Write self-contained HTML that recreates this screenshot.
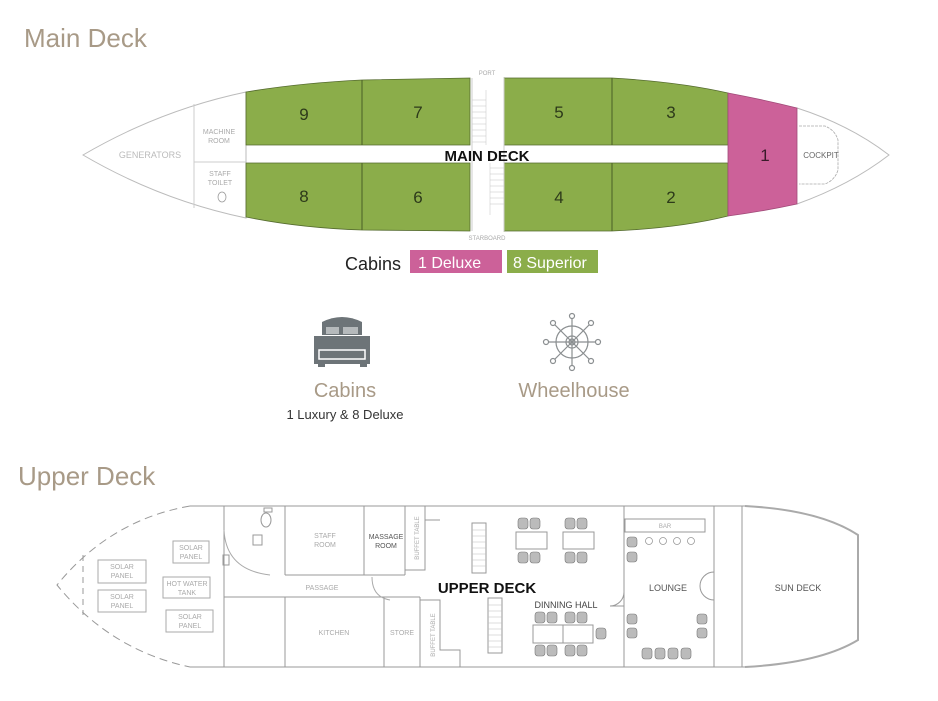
<!DOCTYPE html>
<html><head><meta charset="utf-8"><style>
html,body{margin:0;padding:0;background:#fff;}
svg{display:block;font-family:"Liberation Sans",Arial,sans-serif;}
.t{fill:#a89a87;font-size:26px;}
.s{fill:#aaa;font-size:7px;text-anchor:middle;}
.n{fill:#2d3a1a;font-size:17px;text-anchor:middle;}
</style></head><body>
<svg width="938" height="701" viewBox="0 0 938 701" xmlns="http://www.w3.org/2000/svg">
<text x="24" y="47" class="t">Main Deck</text>
<text x="18" y="485" class="t">Upper Deck</text>

<!-- MAIN DECK hull -->
<path d="M83,155 Q160,110 246,92 L246,218 Q160,200 83,155 Z" fill="#fff" stroke="#bbb" stroke-width="1"/>
<path d="M797,108 Q850,125 889,155 Q850,185 797,204" fill="none" stroke="#bbb" stroke-width="1"/>
<!-- cockpit -->
<path d="M799,126 L825,126 Q835,130 838,140 L838,170 Q835,180 825,184 L799,184" fill="none" stroke="#aaa" stroke-width="0.8" stroke-dasharray="3,1"/>
<text x="821" y="158" class="s" style="font-size:8px;fill:#666">COCKPIT</text>
<!-- machine room / toilet -->
<line x1="194" y1="104" x2="194" y2="208" stroke="#ccc"/>
<line x1="194" y1="162" x2="246" y2="162" stroke="#ccc"/>
<text x="150" y="158" class="s" style="font-size:9px;fill:#bbb">GENERATORS</text>
<text x="219" y="134" class="s">MACHINE</text><text x="219" y="143" class="s">ROOM</text>
<text x="220" y="176" class="s">STAFF</text><text x="220" y="185" class="s">TOILET</text>
<ellipse cx="222" cy="197" rx="4" ry="5" fill="none" stroke="#999" stroke-width="0.8"/>
<!-- green cabins -->
<path d="M246,92 Q300,83 362,80 L470,78 L470,145 L246,145 Z" fill="#8bad4a" stroke="#556b2f" stroke-width="0.8"/>
<path d="M246,163 L470,163 L470,231 L362,230 Q300,228 246,217 Z" fill="#8bad4a" stroke="#556b2f" stroke-width="0.8"/>
<line x1="362" y1="80" x2="362" y2="145" stroke="#4a5e26"/>
<line x1="362" y1="163" x2="362" y2="230" stroke="#4a5e26"/>
<path d="M504,78 L612,78 Q680,82 728,93 L728,145 L504,145 Z" fill="#8bad4a" stroke="#556b2f" stroke-width="0.8"/>
<path d="M504,163 L728,163 L728,216 Q680,228 612,231 L504,231 Z" fill="#8bad4a" stroke="#556b2f" stroke-width="0.8"/>
<line x1="612" y1="78" x2="612" y2="145" stroke="#4a5e26"/>
<line x1="612" y1="163" x2="612" y2="231" stroke="#4a5e26"/>
<path d="M728,93 Q765,100 797,108 L797,204 Q765,211 728,216 Z" fill="#cc6199" stroke="#a04a78" stroke-width="0.8"/>
<!-- stairs -->
<line x1="472" y1="78" x2="472" y2="231" stroke="#ccc"/>
<line x1="504" y1="78" x2="504" y2="231" stroke="#ccc"/>
<g stroke="#ccc" stroke-width="0.6">
<line x1="472" y1="100" x2="486" y2="100"/><line x1="472" y1="106" x2="486" y2="106"/><line x1="472" y1="112" x2="486" y2="112"/><line x1="472" y1="118" x2="486" y2="118"/><line x1="472" y1="124" x2="486" y2="124"/><line x1="472" y1="130" x2="486" y2="130"/><line x1="472" y1="136" x2="486" y2="136"/><line x1="472" y1="142" x2="486" y2="142"/>
<line x1="490" y1="168" x2="504" y2="168"/><line x1="490" y1="174" x2="504" y2="174"/><line x1="490" y1="180" x2="504" y2="180"/><line x1="490" y1="186" x2="504" y2="186"/><line x1="490" y1="192" x2="504" y2="192"/><line x1="490" y1="198" x2="504" y2="198"/><line x1="490" y1="204" x2="504" y2="204"/>
<line x1="486" y1="90" x2="486" y2="145"/><line x1="490" y1="163" x2="490" y2="215"/>
</g>
<text x="487" y="75" class="s" style="font-size:6px">PORT</text>
<text x="487" y="240" class="s" style="font-size:6px">STARBOARD</text>
<text x="487" y="161" style="font-size:15px;font-weight:bold;text-anchor:middle;fill:#111">MAIN DECK</text>
<text x="304" y="120" class="n">9</text><text x="418" y="118" class="n">7</text>
<text x="559" y="118" class="n">5</text><text x="671" y="118" class="n">3</text>
<text x="304" y="202" class="n">8</text><text x="418" y="203" class="n">6</text>
<text x="559" y="203" class="n">4</text><text x="671" y="203" class="n">2</text>
<text x="765" y="161" class="n" style="fill:#3a1a2a">1</text>

<!-- legend -->
<text x="345" y="270" style="font-size:18px;fill:#222">Cabins</text>
<rect x="410" y="250" width="92" height="23" fill="#cc6199"/>
<text x="418" y="268" style="font-size:16px;fill:#fff">1 Deluxe</text>
<rect x="507" y="250" width="91" height="23" fill="#8bad4a"/>
<text x="513" y="268" style="font-size:16px;fill:#fff">8 Superior</text>

<!-- bed icon -->
<g fill="#6d7478">
<path d="M322,335 L322,322 Q342,312 362,322 L362,335 Z"/>
<rect x="314" y="336" width="56" height="28"/>
<rect x="318" y="364" width="7" height="3"/><rect x="360" y="364" width="7" height="3"/>
</g>
<rect x="326" y="327" width="13" height="7" fill="#fff" opacity=".5"/>
<rect x="343" y="327" width="15" height="7" fill="#fff" opacity=".5"/>
<rect x="319" y="350" width="46" height="9" fill="none" stroke="#fff" stroke-width="1.5"/>
<text x="345" y="397" style="font-size:20px;fill:#a89a87;text-anchor:middle">Cabins</text>
<text x="345" y="419" style="font-size:13px;fill:#333;text-anchor:middle">1 Luxury &amp; 8 Deluxe</text>
<!-- wheel -->
<g stroke="#8a8e90" stroke-width="1.2" fill="none">
<circle cx="572" cy="342" r="16"/><circle cx="572" cy="342" r="6"/><circle cx="572" cy="342" r="3"/>
<line x1="572" y1="318" x2="572" y2="366"/><line x1="548" y1="342" x2="596" y2="342"/>
<line x1="555" y1="325" x2="589" y2="359"/><line x1="589" y1="325" x2="555" y2="359"/>
<circle cx="572" cy="316" r="2.5"/><circle cx="572" cy="368" r="2.5"/><circle cx="546" cy="342" r="2.5"/><circle cx="598" cy="342" r="2.5"/>
<circle cx="553" cy="323" r="2.5"/><circle cx="591" cy="323" r="2.5"/><circle cx="553" cy="361" r="2.5"/><circle cx="591" cy="361" r="2.5"/>
</g>
<text x="574" y="397" style="font-size:20px;fill:#a89a87;text-anchor:middle">Wheelhouse</text>

<!-- UPPER DECK -->
<g fill="none" stroke="#999" stroke-width="1">
<path d="M190,506 Q110,520 57,585 Q110,650 190,667" stroke-dasharray="8,5"/>
<line x1="83" y1="555" x2="83" y2="615" stroke-dasharray="6,5"/>
<line x1="190" y1="506" x2="745" y2="506"/>
<line x1="190" y1="667" x2="745" y2="667"/>
<path d="M745,506 Q820,510 858,535 L858,640 Q820,663 745,667" stroke-width="2" stroke="#aaa"/>
<line x1="224" y1="506" x2="224" y2="667"/>
<line x1="182" y1="497" x2="182" y2="497"/>
<line x1="224" y1="597" x2="420" y2="597"/>
<line x1="285" y1="506" x2="285" y2="575"/>
<line x1="285" y1="575" x2="405" y2="575"/>
<line x1="364" y1="506" x2="364" y2="575"/>
<line x1="405" y1="506" x2="405" y2="575"/>
<rect x="405" y="506" width="20" height="64"/>
<path d="M425,506 L425,520 L440,520"/>
<line x1="285" y1="597" x2="285" y2="667"/>
<line x1="384" y1="597" x2="384" y2="667"/>
<line x1="420" y1="597" x2="420" y2="667"/>
<path d="M420,600 L440,600 L440,650 L460,650 L460,667"/>
<path d="M224,530 Q226,570 270,575" stroke="#aaa"/>
<path d="M372,577 Q372,597 390,600" stroke="#aaa"/>
<line x1="624" y1="506" x2="624" y2="667"/>
<line x1="714" y1="506" x2="714" y2="667"/>
<line x1="742" y1="506" x2="742" y2="667"/>
<rect x="625" y="519" width="80" height="13"/>
<path d="M714,572 A14,14 0 0,0 714,600"/>
<path d="M624,592 A14,14 0 0,1 610,606 L624,606"/>
<rect x="264" y="508" width="8" height="4"/>
<ellipse cx="266" cy="520" rx="5" ry="7"/>
<rect x="253" y="535" width="9" height="10"/>
<rect x="223" y="555" width="6" height="10"/>
<rect x="472" y="523" width="14" height="50"/>
<rect x="488" y="598" width="14" height="55"/>
<rect x="516" y="532" width="31" height="17"/>
<rect x="563" y="532" width="31" height="17"/>
<rect x="533" y="625" width="30" height="18"/>
<rect x="563" y="625" width="30" height="18"/>
</g>
<g stroke="#bbb" stroke-width="0.5">
<line x1="472" y1="530" x2="486" y2="530"/><line x1="472" y1="536" x2="486" y2="536"/><line x1="472" y1="542" x2="486" y2="542"/><line x1="472" y1="548" x2="486" y2="548"/><line x1="472" y1="554" x2="486" y2="554"/><line x1="472" y1="560" x2="486" y2="560"/><line x1="472" y1="566" x2="486" y2="566"/>
<line x1="488" y1="605" x2="502" y2="605"/><line x1="488" y1="611" x2="502" y2="611"/><line x1="488" y1="617" x2="502" y2="617"/><line x1="488" y1="623" x2="502" y2="623"/><line x1="488" y1="629" x2="502" y2="629"/><line x1="488" y1="635" x2="502" y2="635"/><line x1="488" y1="641" x2="502" y2="641"/><line x1="488" y1="647" x2="502" y2="647"/>
</g>
<g fill="none" stroke="#aaa">
<rect x="173" y="541" width="36" height="22"/><rect x="98" y="560" width="48" height="23"/><rect x="98" y="590" width="48" height="22"/>
<rect x="163" y="577" width="47" height="21"/><rect x="166" y="610" width="47" height="22"/>
</g>
<g fill="#bbb" stroke="#777" stroke-width="0.6">
<rect x="518" y="518" width="10" height="11" rx="3"/><rect x="530" y="518" width="10" height="11" rx="3"/>
<rect x="518" y="552" width="10" height="11" rx="3"/><rect x="530" y="552" width="10" height="11" rx="3"/>
<rect x="565" y="518" width="10" height="11" rx="3"/><rect x="577" y="518" width="10" height="11" rx="3"/>
<rect x="565" y="552" width="10" height="11" rx="3"/><rect x="577" y="552" width="10" height="11" rx="3"/>
<rect x="535" y="612" width="10" height="11" rx="3"/><rect x="547" y="612" width="10" height="11" rx="3"/>
<rect x="565" y="612" width="10" height="11" rx="3"/><rect x="577" y="612" width="10" height="11" rx="3"/>
<rect x="535" y="645" width="10" height="11" rx="3"/><rect x="547" y="645" width="10" height="11" rx="3"/>
<rect x="565" y="645" width="10" height="11" rx="3"/><rect x="577" y="645" width="10" height="11" rx="3"/>
<rect x="596" y="628" width="10" height="11" rx="3"/>
<rect x="627" y="537" width="10" height="10" rx="3"/><rect x="627" y="552" width="10" height="10" rx="3"/>
<rect x="627" y="614" width="10" height="10" rx="3"/><rect x="627" y="628" width="10" height="10" rx="3"/>
<rect x="697" y="614" width="10" height="10" rx="3"/><rect x="697" y="628" width="10" height="10" rx="3"/>
<rect x="642" y="648" width="10" height="11" rx="3"/><rect x="655" y="648" width="10" height="11" rx="3"/><rect x="668" y="648" width="10" height="11" rx="3"/><rect x="681" y="648" width="10" height="11" rx="3"/>
</g>
<g fill="none" stroke="#999" stroke-width="0.8">
<circle cx="649" cy="541" r="3.5"/><circle cx="663" cy="541" r="3.5"/><circle cx="677" cy="541" r="3.5"/><circle cx="691" cy="541" r="3.5"/>
</g>
<g class="s" style="font-size:7px">
<text x="191" y="550" class="s">SOLAR</text><text x="191" y="559" class="s">PANEL</text>
<text x="122" y="569" class="s">SOLAR</text><text x="122" y="578" class="s">PANEL</text>
<text x="122" y="599" class="s">SOLAR</text><text x="122" y="608" class="s">PANEL</text>
<text x="187" y="586" class="s">HOT WATER</text><text x="187" y="595" class="s">TANK</text>
<text x="190" y="619" class="s">SOLAR</text><text x="190" y="628" class="s">PANEL</text>
<text x="325" y="538" class="s">STAFF</text><text x="325" y="547" class="s">ROOM</text>
<text x="386" y="539" class="s" style="fill:#555">MASSAGE</text><text x="386" y="548" class="s" style="fill:#555">ROOM</text>
<text x="322" y="590" class="s">PASSAGE</text>
<text x="334" y="635" class="s">KITCHEN</text>
<text x="402" y="635" class="s">STORE</text>
<text x="665" y="528" class="s" style="font-size:6px">BAR</text>
</g>
<text x="419" y="538" class="s" transform="rotate(-90 419 538)" style="font-size:6px">BUFFET TABLE</text>
<text x="435" y="635" class="s" transform="rotate(-90 435 635)" style="font-size:6px">BUFFET TABLE</text>
<text x="487" y="593" style="font-size:15px;font-weight:bold;text-anchor:middle;fill:#111">UPPER DECK</text>
<text x="566" y="608" style="font-size:9px;text-anchor:middle;fill:#444">DINNING HALL</text>
<text x="668" y="591" style="font-size:9px;text-anchor:middle;fill:#555">LOUNGE</text>
<text x="798" y="591" style="font-size:9px;text-anchor:middle;fill:#555">SUN DECK</text>
</svg>
</body></html>
